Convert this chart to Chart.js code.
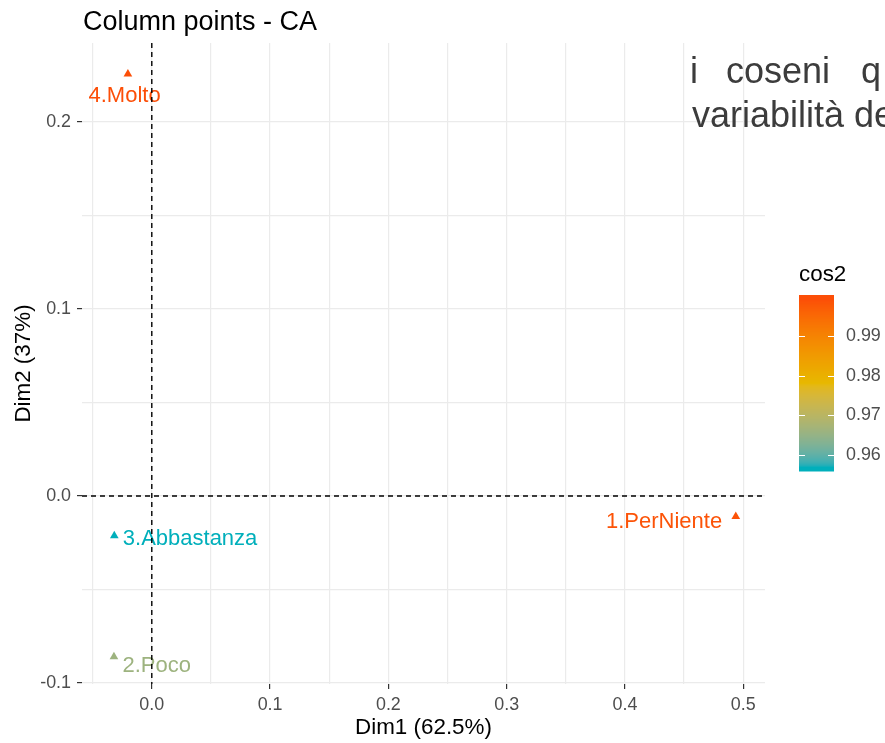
<!DOCTYPE html>
<html>
<head>
<meta charset="utf-8">
<title>Column points - CA</title>
<script src="https://cdn.jsdelivr.net/npm/chart.js@4.4.1/dist/chart.umd.min.js"></script>
<style>
  html, body { margin: 0; padding: 0; background: #ffffff; }
  #wrap { width: 885px; height: 743px; position: relative; }
</style>
</head>
<body>
<div id="wrap"><canvas id="ca" width="885" height="743"></canvas></div>
<script>
// Column categories of the correspondence analysis and their coordinates
const categories = ["1.PerNiente", "2.Poco", "3.Abbastanza", "4.Molto"];
const dim1 = [0.4937, -0.0320, -0.0317, -0.0202];
const dim2 = [-0.0110, -0.0859, -0.0212, 0.2256];
const cos2 = [0.9985, 0.9660, 0.9570, 0.9992];

// Grid positions (major + minor) and colour-bar ticks
const xGrid = [-0.05, 0, 0.05, 0.1, 0.15, 0.2, 0.25, 0.3, 0.35, 0.4, 0.45, 0.5];
const yGrid = [-0.1, -0.05, 0, 0.05, 0.1, 0.15, 0.2];
const xLabelled = [0, 0.1, 0.2, 0.3, 0.4, 0.5];
const yLabelled = [-0.1, 0, 0.1, 0.2];
const legendTicks = [0.96, 0.97, 0.98, 0.99];
const gradientColors = ["#00AFBB", "#E7B800", "#FC4E07"];

const FONT = "'Liberation Sans', Arial, Helvetica, sans-serif";

// ---- colour gradient interpolated in CIE Lab ----
function hexToRgb(h) { return [1, 3, 5].map(i => parseInt(h.slice(i, i + 2), 16)); }
function toLin(c) { c /= 255; return c <= 0.04045 ? c / 12.92 : Math.pow((c + 0.055) / 1.055, 2.4); }
function fromLin(c) {
  const v = c <= 0.0031308 ? 12.92 * c : 1.055 * Math.pow(Math.max(c, 0), 1 / 2.4) - 0.055;
  return Math.round(Math.min(1, Math.max(0, v)) * 255);
}
const WN = [0.95047, 1, 1.08883];
function rgbToLab(rgb) {
  const [r, g, b] = rgb.map(toLin);
  const X = (0.4124564 * r + 0.3575761 * g + 0.1804375 * b) / WN[0];
  const Y = (0.2126729 * r + 0.7151522 * g + 0.0721750 * b) / WN[1];
  const Z = (0.0193339 * r + 0.1191920 * g + 0.9503041 * b) / WN[2];
  const f = t => t > 0.008856 ? Math.cbrt(t) : 7.787 * t + 16 / 116;
  const fx = f(X), fy = f(Y), fz = f(Z);
  return [116 * fy - 16, 500 * (fx - fy), 200 * (fy - fz)];
}
function labToRgb(lab) {
  const [L, a, b] = lab;
  const fy = (L + 16) / 116, fx = fy + a / 500, fz = fy - b / 200;
  const finv = t => { const t3 = t * t * t; return t3 > 0.008856 ? t3 : (t - 16 / 116) / 7.787; };
  const X = finv(fx) * WN[0], Y = finv(fy) * WN[1], Z = finv(fz) * WN[2];
  const r = 3.2404542 * X - 1.5371385 * Y - 0.4985314 * Z;
  const g = -0.9692660 * X + 1.8760108 * Y + 0.0415560 * Z;
  const bb = 0.0556434 * X - 0.2040259 * Y + 1.0572252 * Z;
  return [fromLin(r), fromLin(g), fromLin(bb)];
}
const labStops = gradientColors.map(c => rgbToLab(hexToRgb(c)));
const cMin = Math.min(...cos2), cMax = Math.max(...cos2);
function colourFor(v) {
  let t = (v - cMin) / (cMax - cMin);
  t = Math.min(1, Math.max(0, t));
  const seg = t * (labStops.length - 1);
  const i = Math.min(labStops.length - 2, Math.floor(seg));
  const u = seg - i;
  const lab = labStops[i].map((c, k) => c + (labStops[i + 1][k] - c) * u);
  const rgb = labToRgb(lab);
  return `rgb(${rgb[0]},${rgb[1]},${rgb[2]})`;
}
const pointColours = cos2.map(colourFor);

const isLabelled = (v, list) => list.some(m => Math.abs(m - v) < 1e-9);

// ---- label placement around each point (pixel offsets, text alignment) ----
const labelPlacement = {
  "1.PerNiente": { dx: -13.6, dy: 11.4, align: "right" },
  "2.Poco": { dx: 8.5, dy: 15.3, align: "left" },
  "3.Abbastanza": { dx: 8.5, dy: 9.3, align: "left" },
  "4.Molto": { dx: -3.3, dy: 27.8, align: "center" }
};

const decorations = {
  id: "caDecorations",
  beforeDraw(chart) {
    const ctx = chart.ctx;
    ctx.save();
    ctx.fillStyle = "#ffffff";
    ctx.fillRect(0, 0, chart.width, chart.height);
    ctx.restore();
  },
  afterDatasetsDraw(chart) {
    const ctx = chart.ctx;
    const meta = chart.getDatasetMeta(0);
    const area = chart.chartArea;
    ctx.save();
    // text labels of the categories
    ctx.font = `22px ${FONT}`;
    ctx.textBaseline = "alphabetic";
    meta.data.forEach((pt, i) => {
      const p = labelPlacement[categories[i]];
      ctx.fillStyle = pointColours[i];
      ctx.textAlign = p.align;
      ctx.fillText(categories[i], pt.x + p.dx, pt.y + p.dy);
    });
    // dashed reference lines through the origin
    const xs = chart.scales.x, ys = chart.scales.y;
    const x0 = xs.getPixelForValue(0), y0 = ys.getPixelForValue(0);
    ctx.strokeStyle = "#000000";
    ctx.lineWidth = 1.4;
    ctx.setLineDash([5, 4]);
    ctx.beginPath();
    ctx.moveTo(x0, area.top); ctx.lineTo(x0, area.bottom);
    ctx.moveTo(area.left, y0); ctx.lineTo(area.right, y0);
    ctx.stroke();
    ctx.restore();
  },
  afterDraw(chart) {
    const ctx = chart.ctx;
    ctx.save();
    // plot title
    ctx.fillStyle = "#000000";
    ctx.font = `27px ${FONT}`;
    ctx.textAlign = "left";
    ctx.textBaseline = "alphabetic";
    ctx.fillText("Column points - CA", 83, 29.5);

    // colour bar legend
    const bx = 799, bw = 35, bTop = 295, bBot = 471.5, pad = 4.4;
    const yHi = bTop + pad, yLo = bBot - pad;
    const toY = v => yLo - (v - cMin) / (cMax - cMin) * (yLo - yHi);
    for (let y = bTop; y < bBot; y += 1) {
      const v = cMin + (yLo - (y + 0.5)) / (yLo - yHi) * (cMax - cMin);
      ctx.fillStyle = colourFor(v);
      ctx.fillRect(bx, y, bw, Math.min(1, bBot - y));
    }
    ctx.strokeStyle = "#ffffff";
    ctx.lineWidth = 1;
    ctx.font = `17.9px ${FONT}`;
    ctx.textBaseline = "middle";
    legendTicks.forEach(v => {
      const y = Math.round(toY(v)) + 0.5;
      ctx.beginPath();
      ctx.moveTo(bx, y); ctx.lineTo(bx + 6, y);
      ctx.moveTo(bx + bw - 6, y); ctx.lineTo(bx + bw, y);
      ctx.stroke();
      ctx.fillStyle = "#4D4D4D";
      ctx.fillText(v.toFixed(2), 846, toY(v));
    });
    ctx.fillStyle = "#000000";
    ctx.font = `22.4px ${FONT}`;
    ctx.textBaseline = "alphabetic";
    ctx.fillText("cos2", 799, 280.5);

    // caption text at the top right
    ctx.fillStyle = "#3C3C3C";
    ctx.font = `36px ${FONT}`;
    ctx.fillText("i", 690, 83.3);
    ctx.fillText("coseni", 726, 83.3);
    ctx.fillText("q", 861, 83.3);
    ctx.fillText("variabilità de", 692, 127.3);
    ctx.restore();
  }
};

const gridStyle = {
  color: "#EBEBEB",
  lineWidth: 1.2,
  drawTicks: true,
  tickLength: 5,
  tickWidth: 1.2
};

new Chart(document.getElementById("ca"), {
  type: "scatter",
  data: {
    datasets: [{
      data: dim1.map((x, i) => ({ x: x, y: dim2[i] })),
      pointStyle: "triangle",
      pointRadius: 5,
      pointBackgroundColor: pointColours,
      pointBorderColor: pointColours,
      pointBorderWidth: 0
    }]
  },
  options: {
    responsive: false,
    animation: false,
    events: [],
    layout: { padding: { top: 43, right: 120, bottom: 0, left: 0 } },
    plugins: { legend: { display: false }, tooltip: { enabled: false } },
    scales: {
      x: {
        type: "linear",
        min: -0.0590,
        max: 0.5184,
        afterBuildTicks: s => { s.ticks = xGrid.map(v => ({ value: v })); },
        afterFit: s => { s.height = 59; },
        border: { display: false },
        grid: Object.assign({}, gridStyle, {
          tickColor: c => isLabelled(c.tick.value, xLabelled) ? "#333333" : "rgba(0,0,0,0)"
        }),
        ticks: {
          autoSkip: false,
          maxRotation: 0,
          padding: 5,
          color: "#4D4D4D",
          font: { family: FONT, size: 17.9 },
          callback: v => isLabelled(v, xLabelled) ? v.toFixed(1) : ""
        },
        title: {
          display: true,
          text: "Dim1 (62.5%)",
          color: "#000000",
          font: { family: FONT, size: 22.4 },
          padding: { top: 0, bottom: 2 }
        }
      },
      y: {
        type: "linear",
        min: -0.1005,
        max: 0.2422,
        afterBuildTicks: s => { s.ticks = yGrid.map(v => ({ value: v })); },
        afterFit: s => { s.width = 82; },
        border: { display: false },
        grid: Object.assign({}, gridStyle, {
          tickColor: c => isLabelled(c.tick.value, yLabelled) ? "#333333" : "rgba(0,0,0,0)"
        }),
        ticks: {
          autoSkip: false,
          padding: 6,
          color: "#4D4D4D",
          font: { family: FONT, size: 17.9 },
          callback: v => isLabelled(v, yLabelled) ? v.toFixed(1) : ""
        },
        title: {
          display: true,
          text: "Dim2 (37%)",
          color: "#000000",
          font: { family: FONT, size: 22.4 },
          padding: { top: 10.4, bottom: 0 }
        }
      }
    }
  },
  plugins: [decorations]
});
</script>
</body>
</html>
